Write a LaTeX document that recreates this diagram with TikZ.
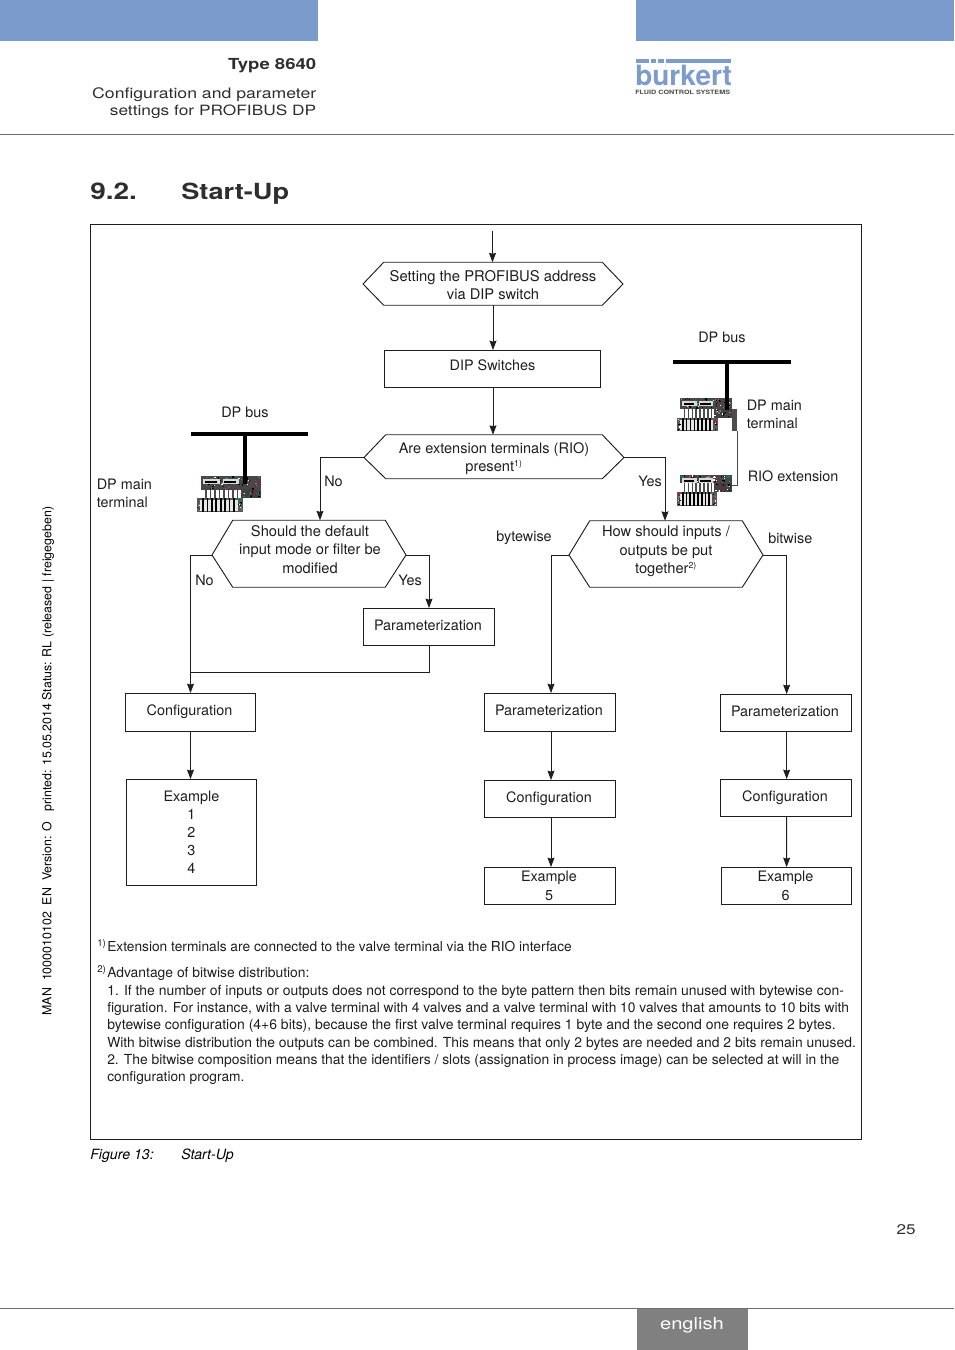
\documentclass[tikz,border=0pt]{standalone}
\usepackage{fontspec}
\setmainfont{TeX Gyre Heros}
\newfontfamily\extfont[FakeStretch=1.22]{TeX Gyre Heros}
\usetikzlibrary{arrows.meta,calc}
\definecolor{barblue}{HTML}{7B9BCD}
\definecolor{tabgray}{HTML}{808080}
\definecolor{rulegray}{HTML}{6E6E6E}
\definecolor{headtext}{HTML}{2E2E2E}
\definecolor{logoblue}{HTML}{7E9CCB}
\definecolor{inkc}{HTML}{1E1E1E}
\newcommand{\bodyfs}{\fontsize{11}{13.7}\selectfont}
\newcommand{\labfs}{\fontsize{10.8}{13.5}\selectfont}
\newcommand{\nfs}[1]{\fontsize{#1}{12}\selectfont}
\newcommand{\lft}[1]{\mbox{\kern-1.5pt #1}}
\newcommand{\supbox}[1]{\makebox[7.5pt][l]{\textsuperscript{#1}}}
\tikzset{
  conn/.style={draw=inkc,line width=0.7pt},
  arr/.style={conn,-{Stealth[length=7pt,width=5.2pt,inset=0.7pt]}},
  flowbox/.style={draw=inkc,line width=0.7pt,inner sep=0pt,align=center,font=\labfs,text=inkc},
  hexbox/.style={inner sep=0pt,align=center,font=\bodyfs,text=inkc},
  lab/.style={inner sep=0pt,align=left,font=\labfs,text=inkc},
  fnote/.style={inner sep=0pt,anchor=base west,text=inkc}
}
% box in px: name, left, top, right, bottom, text
\newcommand{\flowrect}[6]{%
  \pgfmathsetmacro{\bw}{(#4-#2)*0.75}\pgfmathsetmacro{\bh}{(#5-#3)*0.75}%
  \node[flowbox,minimum width=\bw pt,minimum height=\bh pt] (#1) at ({(#2+#4)/2},{(#3+#5)/2}) {#6};}
% hexagon: name,left,top,right,bottom,inset,tip y,text centre y,text
\newcommand{\hexa}[9]{%
  \pgfmathsetmacro{\bw}{(#4-#2)*0.75}\pgfmathsetmacro{\bh}{(#5-#3)*0.75}%
  \node[minimum width=\bw pt,minimum height=\bh pt,inner sep=0pt] (#1) at ({(#2+#4)/2},{(#3+#5)/2}) {};
  \coordinate (#1W) at (#2,#7);
  \coordinate (#1E) at (#4,#7);
  \draw[conn] (#1W) -- ($(#1.north west)+(#6,0)$) -- ($(#1.north east)-(#6,0)$) -- (#1E)
     -- ($(#1.south east)-(#6,0)$) -- ($(#1.south west)+(#6,0)$) -- cycle;
  \node[hexbox] (#1T) at ({(#2+#4)/2},#8) {#9};}
\newcommand{\speck}[5]{%
  \foreach \i in {1,...,#5}{%
    \pgfmathsetmacro{\sx}{#1+rnd*(#3-1.5)}\pgfmathsetmacro{\sy}{#2+rnd*(#4-1.5)}%
    \pgfmathtruncatemacro{\sc}{int(rnd*6)}%
    \ifcase\sc\def\scol{black}\or\def\scol{black}\or\def\scol{white}\or\def\scol{gray}\or\def\scol{teal}\or\def\scol{purple}\fi
    \fill[\scol] (\sx,\sy) rectangle ++(1.3,1.3);}}
\newcommand{\device}[8]{%
  \fill[black!72] (#1,#2) rectangle ++(#3,#4);
  \speck{#1}{#2}{#3}{#4}{75}
  \fill[black!15] ({#1+2},{#2+3}) rectangle ++({#3*0.28},5);
  \fill[black!15] ({#1+#3*0.36},{#2+3}) rectangle ++({#3*0.28},5);
  \fill[black] ({#1+4},{#2+5}) rectangle ++({#3*0.2},1.5);
  \fill[black] ({#1+#3*0.39},{#2+5}) rectangle ++({#3*0.2},1.5);
  \fill[white] (#1,{#2+#4}) rectangle ++({#3*0.66},#5);
  \foreach \k in {1,...,8}{\fill[black!70] ({#1+\k*#3*0.074},{#2+#4}) rectangle ++(1.6,#5);}
  \fill[black!75] ({#1+#3*0.66},{#2+#4}) rectangle ++({#3*0.34},#5);
  \speck{(#1+#3*0.66)}{(#2+#4)}{(#3*0.34)}{#5}{18}
  \fill[black!65] (#6,{#2+#4+#5}) rectangle ++(#7,#8);
  \fill[black!10] ({#6+3},{#2+#4+#5+1.5}) rectangle ++({#7-8},{#8-3});
  \foreach \k in {1,...,8}{\fill[black] ({#6+\k*#7*0.095+1},{#2+#4+#5}) rectangle ++(1.7,#8);}
  \speck{#6}{(#2+#4+#5)}{4}{#8}{8}
  \speck{(#6+#7-5)}{(#2+#4+#5)}{5}{#8}{8}
}
\begin{document}
\begin{tikzpicture}[x=0.75pt,y=-0.75pt]
\useasboundingbox (0,0) rectangle (954,1350);
\pgfmathsetseed{8640}
% page furniture
\fill[barblue] (0,0) rectangle (318,41);
\fill[barblue] (636,0) rectangle (954,41);
\draw[rulegray,line width=0.5pt] (0,134.5) -- (954,134.5);
\draw[rulegray,line width=0.5pt] (0,1308.5) -- (954,1308.5);
\fill[tabgray] (637,1308.5) rectangle (748,1350);
\node[inner sep=0pt,anchor=base east,text=headtext] (hType) at (316.5,69) {\extfont\fontsize{11.4}{13}\selectfont\bfseries Type 8640};
\node[inner sep=0pt,anchor=base east,text=headtext] (hOne) at (316.5,98) {\extfont\fontsize{10.85}{13}\selectfont Configuration and parameter};
\node[inner sep=0pt,anchor=base east,text=headtext] (hTwo) at (316.5,115) {\extfont\fontsize{10.65}{13}\selectfont settings for PROFIBUS DP};
% logo
\node[inner sep=0pt,anchor=base west,text=logoblue] (logoText) at (635,85) {\fontsize{21}{22}\selectfont\bfseries b\"urkert};
\fill[white] (651,60) rectangle (665,68.5);
\fill[logoblue] (635.5,59) rectangle (731,63);
\fill[white] (649,58) rectangle (651,64);
\fill[white] (656,58) rectangle (658,64);
\fill[white] (664,58) rectangle (666,64);
\node[inner sep=0pt,anchor=base west,text=black!70] (logoSub) at (635,94.5) {\extfont\fontsize{4.45}{5}\selectfont\bfseries FLUID CONTROL SYSTEMS};
% heading
\node[inner sep=0pt,anchor=base west,text=headtext] (secNum) at (90,199) {\extfont\fontsize{17.2}{20}\selectfont\bfseries 9.2.};
\node[inner sep=0pt,anchor=base west,text=headtext] (secTitle) at (181,199) {\extfont\fontsize{16.7}{20}\selectfont\bfseries Start-Up};
% frame
\draw[inkc,line width=0.6pt] (90.5,224.5) rectangle (861.5,1139.5);
% side text
\node[inner sep=0pt,rotate=90,font=\fontsize{9.3}{10}\selectfont] (sideText) at (48,761) {MAN\ \ 1000010102\ \ EN\ \ Version: O\ \ \ printed: 15.05.2014 Status: RL (released | freigegeben)};
% devices
\device{201}{476}{60}{14}{8}{197}{46}{14}
\device{680}{398}{52}{11}{9}{677}{41}{13}
\device{680}{475}{52}{8}{9}{677}{40}{14}
\fill[black!70] (732,409) rectangle (737,431);
\draw[black!70,line width=0.7pt] (737,431) -- (737,485) -- (732,485);
% buses
\coordinate (busLa) at (191,434); \coordinate (busLb) at (308,434);
\coordinate (busLc) at (245,434); \coordinate (busLd) at (245,484);
\draw[black,line width=3pt] (busLa) -- (busLb);
\draw[black,line width=3pt] (busLc) -- (busLd);
\coordinate (busRa) at (673,362); \coordinate (busRb) at (791,362);
\coordinate (busRc) at (727,362); \coordinate (busRd) at (727,410);
\draw[black,line width=2.6pt] (busRa) -- (busRb);
\draw[black,line width=2.6pt] (busRc) -- (busRd);
% flow nodes
\hexa{hA}{363}{262.5}{623}{305}{21}{284}{285}{\fontsize{11.1}{13.2}\selectfont Setting the PROFIBUS address\\via DIP switch}
\flowrect{dip}{384.5}{350.5}{600.5}{387.5}{\raisebox{6pt}{DIP Switches}}
\hexa{hB}{364}{435}{624}{478.5}{22}{457.5}{459}{\fontsize{10.9}{14}\selectfont Are extension terminals (RIO)\\present\textsuperscript{\fontsize{6.5}{7}\selectfont 1)}}
\hexa{hC}{212}{520.5}{406}{587}{21}{555}{549.5}{\mbox{\kern1.5pt Should the default}\\\mbox{\kern1.5pt input mode or filter be}\\\mbox{\kern1.5pt modified}}
\hexa{hD}{569}{521}{763}{587}{21}{555}{551.5}{How should inputs /\\outputs be put\\together\textsuperscript{\fontsize{6.5}{7}\selectfont 2)}}
\flowrect{pL}{363.5}{608.5}{494.5}{645.5}{\raisebox{2.2pt}{\lft{Parameterization}}}
\flowrect{cL}{125.5}{693.5}{255.5}{731.5}{\raisebox{3pt}{\lft{Configuration}}}
\flowrect{eL}{126.5}{779.5}{256.5}{885.5}{Example\\1\\2\\3\\4}
\flowrect{pM}{484.5}{693.5}{615.5}{731.5}{\raisebox{3pt}{\lft{Parameterization}}}
\flowrect{cM}{484.5}{780.5}{615.5}{817.5}{\lft{Configuration}}
\flowrect{eM}{484.5}{867.5}{615.5}{904.5}{\raisebox{1pt}{\lft{Example}}\\\lft{5}}
\flowrect{pR}{720.5}{694.5}{851.5}{731.5}{\raisebox{3pt}{\lft{Parameterization}}}
\flowrect{cR}{720.5}{779.5}{851.5}{816.5}{\raisebox{2.2pt}{\lft{Configuration}}}
\flowrect{eR}{721.5}{867.5}{851.5}{904.5}{\raisebox{1pt}{\lft{Example}}\\\lft{6}}
% connectors
\coordinate (startTop) at (492.5,231);
\draw[arr] (startTop) -- (startTop |- hA.north);
\draw[arr] (hA.south) -- (hA.south |- dip.north);
\draw[arr] (hA.south |- dip.south) -- (hA.south |- hB.north);
\coordinate (noTurn) at (320,457);
\draw[arr] (hBW) -| (hC.north -| noTurn);
\draw[arr] (hBE) -| ([xshift=-0.75pt]hD.north);
\coordinate (leftDrop) at (190.5,555);
\draw[arr] (hCW) -- (leftDrop) -- (leftDrop |- cL.north);
\draw[arr] (hCE) -| (pL.north);
\coordinate (joinL) at (190.5,672.5);
\draw[conn] (pL.south) |- (joinL);
\draw[arr] (cL.south) -- (cL.south |- eL.north);
\draw[arr] (hDW) -| ([xshift=0.75pt]pM.north);
\draw[arr] ([xshift=0.75pt]pM.south) -- ([xshift=0.75pt]cM.north);
\draw[arr] ([xshift=0.75pt]cM.south) -- ([xshift=0.75pt]eM.north);
\draw[arr] (hDE) -| ([xshift=0.5pt]pR.north);
\draw[arr] ([xshift=0.5pt]pR.south) -- ([xshift=0.5pt]cR.north);
\draw[arr] ([xshift=0.5pt]cR.south) -- ([xshift=0.1pt]eR.north);
% labels
\node[lab,anchor=west] (lNoB) at (324,481) {No};
\node[lab,anchor=west] (lYesB) at (638,481) {Yes};
\node[lab,anchor=west] (lNoC) at (195,580) {No};
\node[lab,anchor=west] (lYesC) at (398,580) {Yes};
\node[lab,anchor=west] (lByte) at (496,538) {bytewise};
\node[lab,anchor=west] (lBit) at (768,538) {bitwise};
\node[lab,anchor=west] (lBusL) at (221,412) {DP bus};
\node[lab,anchor=west] (lBusR) at (698,337) {DP bus};
\node[lab,anchor=west] (lMainL) at (96.5,493) {DP main\\terminal};
\node[lab,anchor=west] (lMainR) at (746.5,414) {DP main\\terminal};
\node[lab,anchor=west] (lRio) at (747.5,476) {RIO extension};
% notes
\node[fnote] (n1) at (97,951) {\nfs{10.3}\supbox{1)}Extension terminals are connected to the valve terminal via the RIO interface};
\node[fnote] (n2) at (97,977) {\nfs{10.4}\supbox{2)}Advantage of bitwise distribution:};
\node[fnote] (n3) at (107,995) {\nfs{10.45}1. If the number of inputs or outputs does not correspond to the byte pattern then bits remain unused with bytewise con-};
\node[fnote] (n4) at (107,1012) {\nfs{10.33}figuration. For instance, with a valve terminal with 4 valves and a valve terminal with 10 valves that amounts to 10 bits with};
\node[fnote] (n5) at (107,1029) {\nfs{10.48}bytewise configuration (4+6 bits), because the first valve terminal requires 1 byte and the second one requires 2 bytes.};
\node[fnote] (n6) at (107,1047) {\nfs{10.4}With bitwise distribution the outputs can be combined. This means that only 2 bytes are needed and 2 bits remain unused.};
\node[fnote] (n7) at (107,1064) {\nfs{10.4}2. The bitwise composition means that the identifiers / slots (assignation in process image) can be selected at will in the};
\node[fnote] (n8) at (107,1081) {\nfs{10.3}configuration program.};
% caption
\node[inner sep=0pt,anchor=base west,font=\fontsize{10.6}{12}\selectfont\itshape] (capA) at (90,1159) {Figure 13:};
\node[inner sep=0pt,anchor=base west,font=\fontsize{10.6}{12}\selectfont\itshape] (capB) at (181,1159) {Start-Up};
% page number, language
\node[inner sep=0pt,anchor=base,text=headtext] (pageNo) at (906,1234) {\extfont\fontsize{10.5}{12}\selectfont 25};
\node[inner sep=0pt,anchor=base,text=white] (lang) at (692,1329.5) {\extfont\fontsize{12.4}{13}\selectfont english};
\end{tikzpicture}
\end{document}
